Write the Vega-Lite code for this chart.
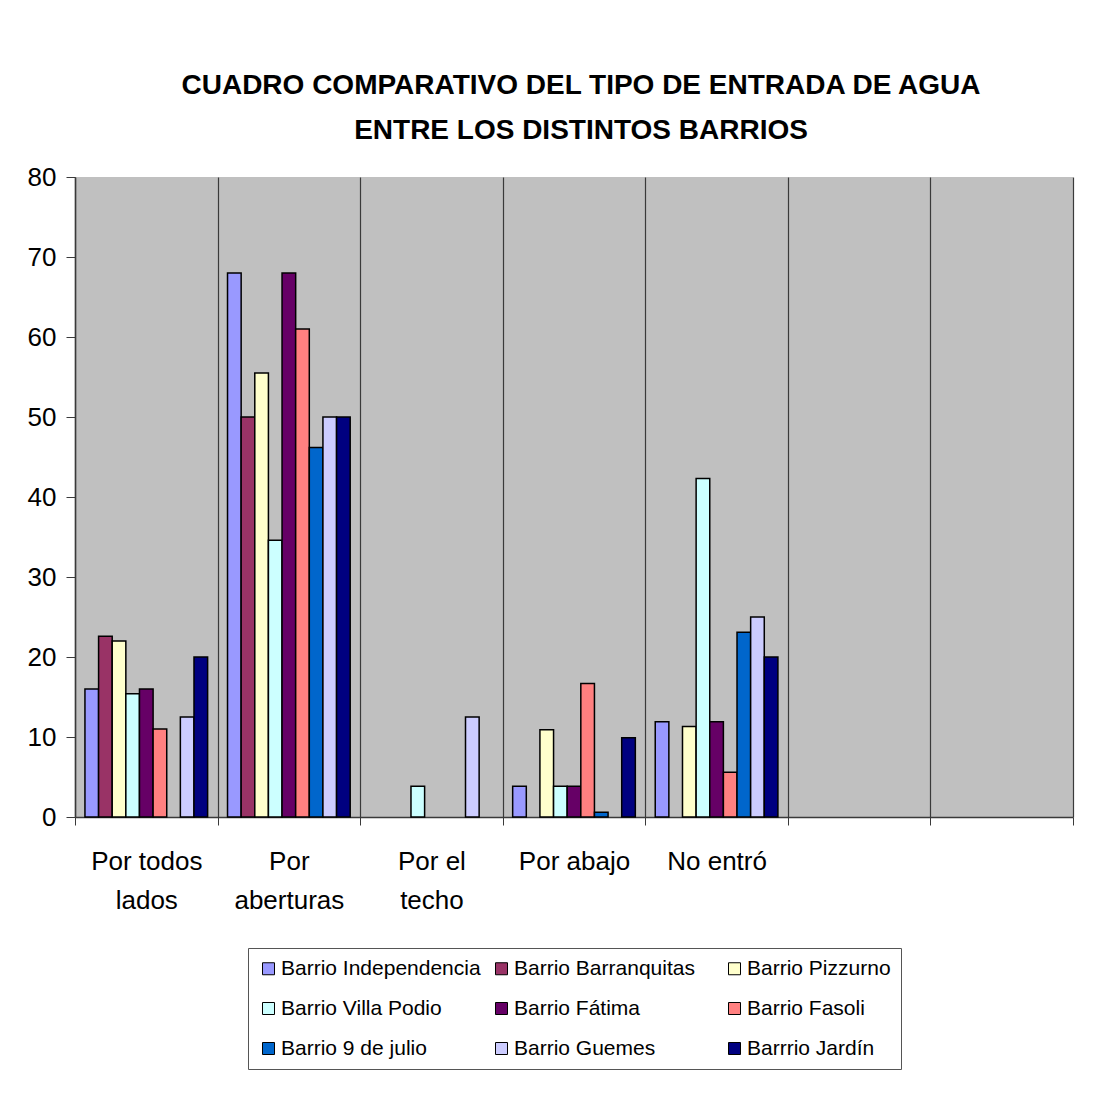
{
  "$schema": "https://vega.github.io/schema/vega-lite/v6.json",
  "width": 998,
  "height": 640,
  "autosize": {"type": "none"},
  "padding": {"left": 75, "top": 177, "right": 39, "bottom": 280},
  "background": "white",
  "title": {
    "text": ["CUADRO COMPARATIVO DEL TIPO DE ENTRADA DE AGUA", "ENTRE LOS DISTINTOS BARRIOS"],
    "font": "Liberation Sans",
    "fontSize": 28,
    "fontWeight": "bold",
    "color": "black",
    "lineHeight": 45,
    "anchor": "middle",
    "offset": 19,
    "dx": 7
  },
  "config": {
    "view": {"fill": "#C0C0C0", "stroke": null},
    "font": "Liberation Sans"
  },
  "data": {
    "values": [
      {"cat": "Por todos lados", "barrio": "Barrio Independencia", "valor": 16},
      {"cat": "Por todos lados", "barrio": "Barrio Barranquitas", "valor": 22.6},
      {"cat": "Por todos lados", "barrio": "Barrio Pizzurno", "valor": 22},
      {"cat": "Por todos lados", "barrio": "Barrio Villa Podio", "valor": 15.4},
      {"cat": "Por todos lados", "barrio": "Barrio Fátima", "valor": 16},
      {"cat": "Por todos lados", "barrio": "Barrio Fasoli", "valor": 11},
      {"cat": "Por todos lados", "barrio": "Barrio Guemes", "valor": 12.5},
      {"cat": "Por todos lados", "barrio": "Barrrio Jardín", "valor": 20},
      {"cat": "Por aberturas", "barrio": "Barrio Independencia", "valor": 68},
      {"cat": "Por aberturas", "barrio": "Barrio Barranquitas", "valor": 50},
      {"cat": "Por aberturas", "barrio": "Barrio Pizzurno", "valor": 55.5},
      {"cat": "Por aberturas", "barrio": "Barrio Villa Podio", "valor": 34.6},
      {"cat": "Por aberturas", "barrio": "Barrio Fátima", "valor": 68},
      {"cat": "Por aberturas", "barrio": "Barrio Fasoli", "valor": 61},
      {"cat": "Por aberturas", "barrio": "Barrio 9 de julio", "valor": 46.2},
      {"cat": "Por aberturas", "barrio": "Barrio Guemes", "valor": 50},
      {"cat": "Por aberturas", "barrio": "Barrrio Jardín", "valor": 50},
      {"cat": "Por el techo", "barrio": "Barrio Villa Podio", "valor": 3.85},
      {"cat": "Por el techo", "barrio": "Barrio Guemes", "valor": 12.5},
      {"cat": "Por abajo", "barrio": "Barrio Independencia", "valor": 3.85},
      {"cat": "Por abajo", "barrio": "Barrio Pizzurno", "valor": 10.9},
      {"cat": "Por abajo", "barrio": "Barrio Villa Podio", "valor": 3.85},
      {"cat": "Por abajo", "barrio": "Barrio Fátima", "valor": 3.85},
      {"cat": "Por abajo", "barrio": "Barrio Fasoli", "valor": 16.7},
      {"cat": "Por abajo", "barrio": "Barrio 9 de julio", "valor": 0.6},
      {"cat": "Por abajo", "barrio": "Barrrio Jardín", "valor": 9.9},
      {"cat": "No entró", "barrio": "Barrio Independencia", "valor": 11.9},
      {"cat": "No entró", "barrio": "Barrio Pizzurno", "valor": 11.3},
      {"cat": "No entró", "barrio": "Barrio Villa Podio", "valor": 42.3},
      {"cat": "No entró", "barrio": "Barrio Fátima", "valor": 11.9},
      {"cat": "No entró", "barrio": "Barrio Fasoli", "valor": 5.6},
      {"cat": "No entró", "barrio": "Barrio 9 de julio", "valor": 23.1},
      {"cat": "No entró", "barrio": "Barrio Guemes", "valor": 25},
      {"cat": "No entró", "barrio": "Barrrio Jardín", "valor": 20}
    ]
  },
  "mark": {"type": "bar", "stroke": "black", "strokeWidth": 1.5},
  "encoding": {
    "x": {
      "field": "cat",
      "type": "nominal",
      "sort": null,
      "scale": {
        "domain": ["Por todos lados", "Por aberturas", "Por el techo", "Por abajo", "No entró", "_6", "_7"],
        "paddingInner": 0,
        "paddingOuter": 0
      },
      "axis": {
        "title": null,
        "labelAngle": 0,
        "labelExpr": "datum.value == 'Por todos lados' ? ['Por todos', 'lados'] : datum.value == 'Por aberturas' ? ['Por', 'aberturas'] : datum.value == 'Por el techo' ? ['Por el', 'techo'] : (datum.value == '_6' || datum.value == '_7') ? '' : datum.value",
        "labelFont": "Liberation Sans",
        "labelFontSize": 26,
        "labelColor": "black",
        "labelLineHeight": 39,
        "labelPadding": 23,
        "labelBaseline": "top",
        "bandPosition": 0,
        "grid": true,
        "gridColor": "#3a3a3a",
        "gridWidth": 1.2,
        "gridOpacity": 1,
        "ticks": true,
        "tickBand": "extent",
        "tickSize": 8,
        "tickColor": "#3a3a3a",
        "domainColor": "#3a3a3a",
        "domainWidth": 1.5
      }
    },
    "xOffset": {
      "field": "barrio",
      "type": "nominal",
      "scale": {
        "domain": ["Barrio Independencia", "Barrio Barranquitas", "Barrio Pizzurno", "Barrio Villa Podio", "Barrio Fátima", "Barrio Fasoli", "Barrio 9 de julio", "Barrio Guemes", "Barrrio Jardín"],
        "paddingInner": 0,
        "paddingOuter": 0.73
      }
    },
    "y": {
      "field": "valor",
      "type": "quantitative",
      "scale": {"domain": [0, 80], "nice": false},
      "axis": {
        "title": null,
        "values": [0, 10, 20, 30, 40, 50, 60, 70, 80],
        "grid": false,
        "labelFont": "Liberation Sans",
        "labelFontSize": 26,
        "labelColor": "black",
        "labelPadding": 10,
        "tickSize": 9,
        "tickColor": "#3a3a3a",
        "domainColor": "#3a3a3a",
        "domainWidth": 1.5
      }
    },
    "color": {
      "field": "barrio",
      "type": "nominal",
      "scale": {
        "domain": ["Barrio Independencia", "Barrio Barranquitas", "Barrio Pizzurno", "Barrio Villa Podio", "Barrio Fátima", "Barrio Fasoli", "Barrio 9 de julio", "Barrio Guemes", "Barrrio Jardín"],
        "range": ["#9999FF", "#993366", "#FFFFCC", "#CCFFFF", "#660066", "#FF8080", "#0066CC", "#CCCCFF", "#000080"]
      },
      "legend": {
        "title": null,
        "orient": "none",
        "legendX": 173,
        "legendY": 771,
        "direction": "horizontal",
        "columns": 3,
        "gridAlign": "all",
        "padding": 10,
        "strokeColor": "#555555",
        "fillColor": "white",
        "symbolType": "square",
        "symbolSize": 144,
        "symbolStrokeColor": "black",
        "symbolStrokeWidth": 1,
        "symbolOpacity": 1,
        "labelFont": "Liberation Sans",
        "labelFontSize": 21,
        "labelColor": "black",
        "labelOffset": 2,
        "labelLimit": 300,
        "columnPadding": 10,
        "rowPadding": 18
      }
    }
  }
}
